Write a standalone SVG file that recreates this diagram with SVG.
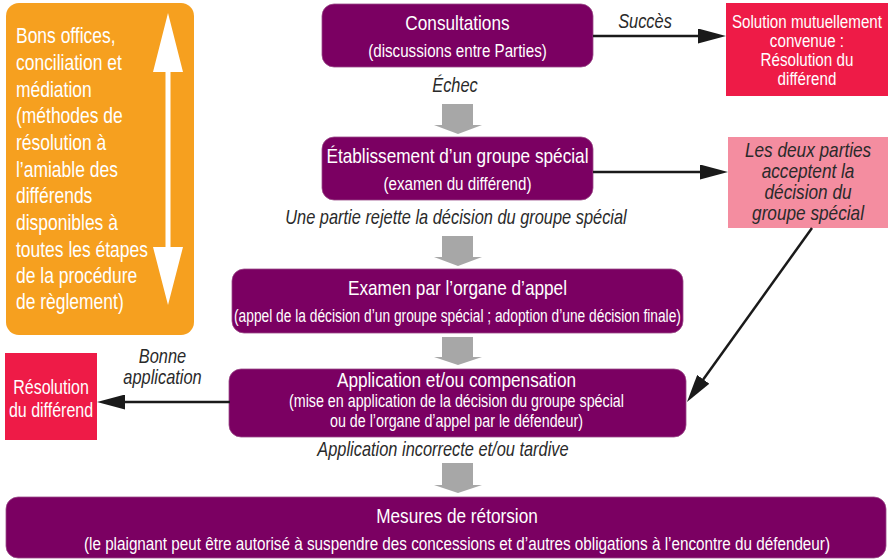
<svg xmlns="http://www.w3.org/2000/svg" width="891" height="559" viewBox="0 0 891 559">
<defs>
<style>
.t{font-family:"Liberation Sans",Arial,sans-serif;}
.w{fill:#ffffff;}
.d{fill:#2a2a2a;}
.i{font-style:italic;}
.m{text-anchor:middle;}
.box{fill:#7B0062;stroke:#9a4a88;stroke-width:0.8;}
.gray{fill:#A7A7A7;}
.con{stroke:#1a1a1a;stroke-width:2.5;fill:none;}
</style>
<marker id="ah" markerUnits="userSpaceOnUse" markerWidth="28" markerHeight="15" refX="18" refY="7.5" orient="auto">
<path d="M0,0 L28,7.5 L0,15 z" fill="#1a1a1a"/>
</marker>
</defs>
<rect width="891" height="559" fill="#ffffff"/>

<g id="mediation">
<rect x="6" y="3" width="188" height="332" rx="13" fill="#F6A01F"/>
<polygon points="168,13 183,72 170.5,72 170.5,247 183,247 168,305 153,247 165.5,247 165.5,72 153,72" fill="#ffffff"/>
<g transform="scale(0.82 1)" class="t w" font-size="21.3">
<text x="19.5" y="43">Bons offices,</text>
<text x="19.5" y="70">conciliation et</text>
<text x="19.5" y="97">médiation</text>
<text x="19.5" y="123">(méthodes de</text>
<text x="19.5" y="150">résolution à</text>
<text x="19.5" y="177">l’amiable des</text>
<text x="19.5" y="203">différends</text>
<text x="19.5" y="230">disponibles à</text>
<text x="19.5" y="257">toutes les étapes</text>
<text x="19.5" y="283">de la procédure</text>
<text x="19.5" y="309">de règlement)</text>
</g>
</g>

<g id="consultations">
<rect class="box" x="322" y="4" width="271" height="63" rx="12"/>
<g transform="scale(0.82 1)" class="t w m">
<text x="557.9" y="30" font-size="21">Consultations</text>
<text x="557.9" y="57" font-size="18.5">(discussions entre Parties)</text>
</g>
</g>

<g id="solution">
<rect x="726" y="3" width="162" height="93" fill="#EE1B47"/>
<g transform="scale(0.82 1)" class="t w m" font-size="18.5">
<text x="984.1" y="28">Solution mutuellement</text>
<text x="984.1" y="47">convenue :</text>
<text x="984.1" y="66">Résolution du</text>
<text x="984.1" y="85">différend</text>
</g>
</g>

<g id="groupe-special">
<rect class="box" x="322" y="137" width="271" height="63" rx="12"/>
<g transform="scale(0.82 1)" class="t w m">
<text x="557.9" y="163" font-size="21">Établissement d’un groupe spécial</text>
<text x="557.9" y="190" font-size="18.5">(examen du différend)</text>
</g>
</g>

<g id="acceptent">
<rect x="728" y="137" width="160" height="91" fill="#F48DA0"/>
<g transform="scale(0.82 1)" class="t d m i" font-size="21">
<text x="985.4" y="157">Les deux parties</text>
<text x="985.4" y="178">acceptent la</text>
<text x="985.4" y="199">décision du</text>
<text x="985.4" y="220">groupe spécial</text>
</g>
</g>

<g id="organe-appel">
<rect class="box" x="232" y="269" width="451" height="64" rx="12"/>
<g transform="scale(0.82 1)" class="t w m">
<text x="557.9" y="295" font-size="21">Examen par l’organe d’appel</text>
<text x="557.9" y="322" font-size="17.5" textLength="545" lengthAdjust="spacingAndGlyphs">(appel de la décision d’un groupe spécial ; adoption d’une décision finale)</text>
</g>
</g>

<g id="application">
<rect class="box" x="229" y="369" width="457" height="68" rx="12"/>
<g transform="scale(0.82 1)" class="t w m">
<text x="556.7" y="387" font-size="21">Application et/ou compensation</text>
<text x="556.7" y="407" font-size="17.5" textLength="408.5" lengthAdjust="spacingAndGlyphs">(mise en application de la décision du groupe spécial</text>
<text x="556.7" y="427" font-size="17.5" textLength="308.5" lengthAdjust="spacingAndGlyphs">ou de l’organe d’appel par le défendeur)</text>
</g>
</g>

<g id="resolution">
<rect x="5" y="353" width="92" height="87" fill="#EE1B47"/>
<g transform="scale(0.82 1)" class="t w m" font-size="19.5">
<text x="62.2" y="394">Résolution</text>
<text x="62.2" y="417">du différend</text>
</g>
</g>

<g id="retorsion">
<rect class="box" x="6" y="497" width="880" height="61" rx="12"/>
<g transform="scale(0.82 1)" class="t w m">
<text x="557.3" y="523" font-size="21">Mesures de rétorsion</text>
<text x="557.3" y="550" font-size="18.5" textLength="909.8" lengthAdjust="spacingAndGlyphs">(le plaignant peut être autorisé à suspendre des concessions et d’autres obligations à l’encontre du défendeur)</text>
</g>
</g>

<g id="connectors">
<path class="gray" d="M442,104 H473 V125 H482 L458,134 L434,125 H442 Z"/>
<path class="gray" d="M442,236 H473 V257 H482 L458,266 L434,257 H442 Z"/>
<path class="gray" d="M442,337 H473 V357 H482 L458,365 L434,357 H442 Z"/>
<path class="gray" d="M442,463 H473 V485 H482 L458,493 L434,485 H442 Z"/>
<line class="con" x1="593" y1="36" x2="716" y2="36" marker-end="url(#ah)"/>
<line class="con" x1="593" y1="172" x2="718" y2="172" marker-end="url(#ah)"/>
<line class="con" x1="812" y1="228" x2="692.8" y2="393.9" marker-end="url(#ah)"/>
<line class="con" x1="230" y1="402" x2="107" y2="402" marker-end="url(#ah)"/>
<g transform="scale(0.82 1)" class="t d i m" font-size="20">
<text x="786.6" y="28">Succès</text>
<text x="554.9" y="92">Échec</text>
<text x="556.1" y="224">Une partie rejette la décision du groupe spécial</text>
<text x="198.2" y="363">Bonne</text>
<text x="198.2" y="384">application</text>
<text x="540.2" y="456">Application incorrecte et/ou tardive</text>
</g>
</g>
</svg>
